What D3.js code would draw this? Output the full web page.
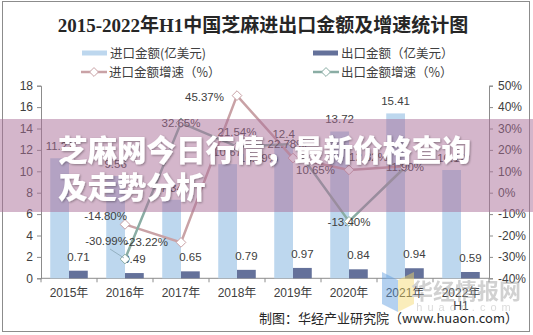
<!DOCTYPE html>
<html><head><meta charset="utf-8">
<script src="https://cdn.jsdelivr.net/npm/d3@7"></script>
<style>
html,body{margin:0;padding:0;background:#fff;}
svg{display:block;}
</style></head>
<body>
<svg id="c" width="533" height="335"></svg>
<script>
// ---- data ----
const categories = ["2015年","2016年","2017年","2018年","2019年","2020年","2021年","2022年\nH1"];
const importValues = [11.22, 9.56, 7.34, 10.67, 12.4, 13.72, 15.41, 10.12];
const exportValues = [0.71, 0.49, 0.65, 0.79, 0.97, 0.84, 0.94, 0.59];
const importGrowth = [null, -14.80, -23.22, 45.37, 16.19, 10.65, 12.32, null];
const exportGrowth = [null, -30.99, 32.65, 21.54, 22.78, -13.40, 11.90, null];
const leftTicks = [0, 2, 4, 6, 8, 10, 12, 14, 16, 18];
const rightTicks = [-40, -30, -20, -10, 0, 10, 20, 30, 40, 50];
// label placement (style only): [dx, dy, anchor]
const impLabelPos = [null, [2,-8,"end"], [-13,0,"end"], [-13,1,"end"], [-15,0,"end"], [-14,0,"end"], [-17,-9,"end"], null];
const expLabelPos = [null, [3,-18,"end"], [0,0,"middle"], [0,-15,"middle"], [-6,0,"middle"], [0,1,"middle"], [0,0,"middle"], null];

const svg = d3.select("#c");
const W = 533, H = 335;
const C_IMP = "#BDD7EE", C_EXP = "#64719A", C_IMPG = "#C9A2A6", C_EXPG = "#8AADA4";
const FONT = "'Liberation Sans', Arial, 'Noto Sans CJK SC', sans-serif";
const CJK = "'Noto Sans CJK SC', sans-serif";

svg.append("rect").attr("width", W).attr("height", H).attr("fill", "#fff");
svg.append("rect").attr("x", 2.5).attr("y", 1.5).attr("width", 527).attr("height", 330)
  .attr("fill", "none").attr("stroke", "#8c8c8c").attr("stroke-width", 1);

// title
svg.append("text").attr("x", 263).attr("y", 32).attr("text-anchor", "middle")
  .attr("font-family", "'Liberation Serif','Noto Sans CJK SC',serif").attr("font-weight", "bold")
  .attr("font-size", 19).attr("fill", "#262626")
  .text("2015-2022年H1中国芝麻进出口金额及增速统计图");

// scales
const plotL = 41, plotR = 489, yTop = 85.7, yBot = 278.3;
const x0 = d3.scaleBand().domain(categories).range([plotL, plotR]).paddingInner(0.33).paddingOuter(0.165);
const x1 = d3.scaleBand().domain(["imp", "exp"]).range([0, x0.bandwidth()]).padding(0);
const yL = d3.scaleLinear().domain([0, 18]).range([yBot, yTop]);
const yR = d3.scaleLinear().domain([-40, 50]).range([yBot, yTop]);
const cx = c => x0(c) + x0.bandwidth() / 2;

// axes
const axL = svg.append("g").attr("transform", `translate(${plotL},0)`)
  .call(d3.axisLeft(yL).tickValues(leftTicks).tickSize(4).tickPadding(4).tickFormat(d3.format("d")));
const axR = svg.append("g").attr("transform", `translate(${plotR},0)`)
  .call(d3.axisRight(yR).tickValues(rightTicks).tickSize(4).tickPadding(5).tickFormat(d => d + "%"));
[axL, axR].forEach(a => {
  a.select(".domain").attr("stroke", "#8c8c8c");
  a.selectAll(".tick line").attr("stroke", "#8c8c8c");
  a.selectAll(".tick text").attr("font-family", FONT).attr("font-size", 12).attr("fill", "#404040");
});
// bottom axis
const gx = svg.append("g");
gx.append("line").attr("x1", plotL).attr("x2", plotR).attr("y1", yBot).attr("y2", yBot).attr("stroke", "#8c8c8c");
const step = x0.step();
d3.range(categories.length + 1).forEach(i => {
  const xx = plotL + i * step;
  gx.append("line").attr("x1", xx).attr("x2", xx).attr("y1", yBot).attr("y2", yBot + 4).attr("stroke", "#8c8c8c");
});
categories.forEach(c => {
  const t = gx.append("text").attr("x", cx(c)).attr("y", 297).attr("text-anchor", "middle")
    .attr("font-family", FONT).attr("font-size", 12).attr("fill", "#404040");
  c.split("\n").forEach((s, i) => t.append("tspan").attr("x", cx(c)).attr("dy", i ? 12.5 : 0).text(s));
});

// bars
const bars = svg.append("g");
bars.selectAll(".bi").data(categories).join("rect")
  .attr("x", c => x0(c) + x1("imp")).attr("width", x1.bandwidth())
  .attr("y", (c, i) => yL(importValues[i])).attr("height", (c, i) => yBot - yL(importValues[i]))
  .attr("fill", C_IMP);
bars.selectAll(".be").data(categories).join("rect")
  .attr("x", c => x0(c) + x1("exp")).attr("width", x1.bandwidth())
  .attr("y", (c, i) => yL(exportValues[i])).attr("height", (c, i) => yBot - yL(exportValues[i]))
  .attr("fill", C_EXP);
const vl = svg.append("g").attr("font-family", FONT).attr("font-size", 11.5).attr("fill", "#404040").attr("text-anchor", "middle");
categories.forEach((c, i) => {
  vl.append("text").attr("x", x0(c) + x1("imp") + x1.bandwidth() / 2).attr("y", yL(importValues[i]) - 8).text(importValues[i]);
  vl.append("text").attr("x", x0(c) + x1("exp") + x1.bandwidth() / 2).attr("y", yL(exportValues[i]) - 10).text(exportValues[i].toFixed(2));
});

// lines
function drawSeries(vals, color, pos) {
  const pts = categories.map((c, i) => ({ c, v: vals[i], i })).filter(d => d.v != null);
  const line = d3.line().x(d => cx(d.c)).y(d => yR(d.v));
  svg.append("path").datum(pts).attr("d", line).attr("fill", "none").attr("stroke", color).attr("stroke-width", 2.5);
  svg.append("g").selectAll("path").data(pts).join("path")
    .attr("d", d3.symbol().type(d3.symbolDiamond2).size(60))
    .attr("transform", d => `translate(${cx(d.c)},${yR(d.v)})`)
    .attr("fill", "#fff").attr("stroke", color).attr("stroke-width", 1);
  return pts;
}
const ip = drawSeries(importGrowth, C_IMPG, impLabelPos);
const ep = drawSeries(exportGrowth, C_EXPG, expLabelPos);
// leader line for one label
const lead = ep.find(d => d.i === 1);
svg.append("line").attr("x1", cx(lead.c) - 15).attr("y1", yR(lead.v) - 10).attr("x2", cx(lead.c) - 1).attr("y2", yR(lead.v) - 1)
  .attr("stroke", "#8aa6b5").attr("stroke-width", 0.8);
const pl = svg.append("g").attr("font-family", FONT).attr("font-size", 11.5).attr("fill", "#404040");
function labels(pts, pos) {
  pts.forEach(d => {
    const p = pos[d.i];
    pl.append("text").attr("x", cx(d.c) + p[0]).attr("y", yR(d.v) + p[1]).attr("dy", "0.35em")
      .attr("text-anchor", p[2]).text(d.v.toFixed(2) + "%");
  });
}
labels(ip, impLabelPos);
labels(ep, expLabelPos);

// legend
const lg = svg.append("g").attr("font-family", CJK).attr("font-size", 12.5).attr("fill", "#404040");
function legendItem(x, y, type, color, label) {
  if (type === "bar") {
    lg.append("rect").attr("x", x).attr("y", y - 2.5).attr("width", 25).attr("height", 5).attr("fill", color);
  } else {
    lg.append("line").attr("x1", x).attr("x2", x + 26).attr("y1", y).attr("y2", y).attr("stroke", color).attr("stroke-width", 2.5);
    lg.append("path").attr("d", d3.symbol().type(d3.symbolDiamond2).size(50)).attr("transform", `translate(${x + 13},${y})`)
      .attr("fill", "#fff").attr("stroke", color);
  }
  lg.append("text").attr("x", x + 28).attr("y", y).attr("dy", "0.36em").text(label);
}
legendItem(82, 53, "bar", C_IMP, "进口金额(亿美元)");
legendItem(313, 53, "bar", C_EXP, "出口金额（亿美元）");
legendItem(81, 72, "line", C_IMPG, "进口金额增速（%）");
legendItem(313, 72, "line", C_EXPG, "出口金额增速（%）");

// source
svg.append("text").attr("x", 518).attr("y", 323).attr("text-anchor", "end")
  .attr("font-family", CJK).attr("font-size", 13).attr("fill", "#262626")
  .text("制图：华经产业研究院（www.huaon.com）");

// watermark
const wm = svg.append("g").attr("opacity", 0.45);
wm.append("path").attr("d", "M382,272 L398,280 L398,312 L382,304 Z").attr("fill", "#5b9be0");
wm.append("path").attr("d", "M398,280 L414,272 L414,304 L398,312 Z").attr("fill", "#f5d96b");
wm.append("text").attr("x", 466).attr("y", 299).attr("text-anchor", "middle").attr("font-family", CJK)
  .attr("font-weight", "bold").attr("font-size", 22).attr("fill", "#9a9a9a").text("华经情报网");
wm.append("text").attr("x", 466).attr("y", 311).attr("text-anchor", "middle").attr("font-family", FONT)
  .attr("font-size", 11).attr("letter-spacing", 5).attr("fill", "#b0b0b0").text("huaon.com");

// overlay banner
svg.append("rect").attr("x", 0).attr("y", 119).attr("width", W).attr("height", 93).attr("fill", "rgba(170,110,152,0.5)");
const defs = svg.append("defs");
const f = defs.append("filter").attr("id", "sh").attr("x", "-5%").attr("y", "-20%").attr("width", "110%").attr("height", "140%");
f.append("feDropShadow").attr("dx", 1).attr("dy", 1).attr("stdDeviation", 1).attr("flood-color", "#000").attr("flood-opacity", 0.35);
const bt = svg.append("g").attr("font-family", CJK).attr("font-weight", 900).attr("font-size", 29.5).attr("fill", "#fff").attr("filter", "url(#sh)");
bt.append("text").attr("x", 58).attr("y", 161).text("芝麻网今日行情，最新价格查询");
bt.append("text").attr("x", 58).attr("y", 198).text("及走势分析");
</script>
</body></html>
